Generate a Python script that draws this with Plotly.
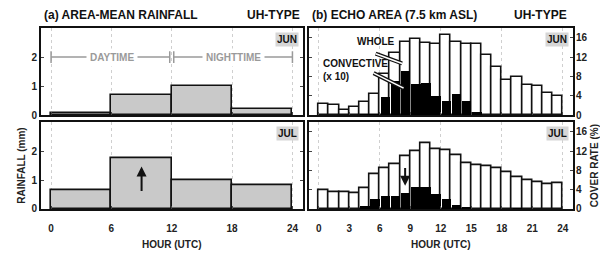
import plotly.graph_objects as go

# ---------------- DATA ----------------
bin6_start = [0, 6, 12, 18]
rain_jun = [0.08, 0.69, 1.0, 0.21]
rain_jul = [0.66, 1.75, 1.0, 0.81]

hour_start = list(range(24))
whole_jun = [2.4, 2.2, 1.0, 1.8, 2.7, 4.4, 8.6, 12.9, 15.2, 15.8, 14.9, 14.6,
             16.5, 15.1, 14.8, 14.6, 12.4, 10.0, 7.3, 8.0, 6.2, 6.0, 4.7, 4.0]
conv_jun = [0, 0, 0, 0, 0.2, 0.3, 3.7, 7.0, 9.1, 6.4, 6.7, 4.0,
            3.0, 4.4, 3.0, 0.6, 0, 0, 0, 0, 0, 0, 0, 0]
whole_jul = [4.0, 3.5, 3.5, 3.2, 4.4, 7.2, 8.5, 9.2, 11.0, 11.9, 13.6, 12.5,
             12.3, 11.1, 9.5, 9.0, 8.8, 8.4, 7.7, 6.6, 6.0, 5.6, 5.2, 5.3]
conv_jul = [0, 0, 0, 0, 0.6, 2.0, 2.6, 2.7, 3.2, 4.5, 4.5, 3.1,
            2.1, 0.9, 0.2, 0, 0, 0, 0, 0.15, 0, 0, 0, 0]

left_xticks = [0, 6, 12, 18, 24]
right_xticks = [0, 3, 6, 9, 12, 15, 18, 21, 24]
rain_yticks = [0, 1, 2]
cover_yticks = [0, 4, 8, 12, 16]

# ---------------- LAYOUT HELPERS ----------------
OFF = 8  # page body margin
W, H = 608 - OFF, 255 - OFF
def px(x): return (x - OFF) / W
def py(y): return 1 - (y - OFF) / H

LX = [px(41), px(302.5)]
RX = [px(308.5), px(573)]
TY = [py(118), py(28.5)]
BY = [py(214), py(125)]

FONT = "Liberation Sans"
GRAY = "#9a9a9a"

fig = go.Figure()

fig.add_trace(go.Bar(x=bin6_start, y=rain_jun, offset=0, width=6,
                     marker=dict(color="#c9c9c9", line=dict(color="#111", width=1.6)),
                     xaxis="x", yaxis="y", showlegend=False))
fig.add_trace(go.Bar(x=bin6_start, y=rain_jul, offset=0, width=6,
                     marker=dict(color="#c9c9c9", line=dict(color="#111", width=1.6)),
                     xaxis="x3", yaxis="y3", showlegend=False))
for xa, ya, wh, cv in [("x2", "y2", whole_jun, conv_jun), ("x4", "y4", whole_jul, conv_jul)]:
    fig.add_trace(go.Bar(x=hour_start, y=wh, offset=0, width=1,
                         marker=dict(color="white", line=dict(color="#111", width=1.6)),
                         xaxis=xa, yaxis=ya, showlegend=False))
    fig.add_trace(go.Bar(x=hour_start, y=cv, offset=0.04, width=0.92,
                         marker=dict(color="black", line=dict(color="black", width=0)),
                         xaxis=xa, yaxis=ya, showlegend=False))

tickfont = dict(family=FONT, size=10, color="#222", weight="bold")
common_x = dict(range=[-1, 25], showline=True, linecolor="#111", linewidth=2, mirror=True,
                ticks="inside", ticklen=3, tickcolor="#444", tickfont=tickfont,
                zeroline=False, fixedrange=True, ticklabelstandoff=9)
common_y = dict(showline=True, linecolor="#111", linewidth=2, mirror="ticks",
                ticks="inside", ticklen=3, tickcolor="#444", tickfont=tickfont,
                showgrid=False, zeroline=False, fixedrange=True)
grid6 = dict(showgrid=True, gridcolor="#cfcfcf", griddash="dot", gridwidth=1)
ttl = dict(family=FONT, size=10, color="#222", weight="bold")

fig.update_layout(
    width=W, height=H, margin=dict(l=0, r=0, t=0, b=0),
    plot_bgcolor="white", paper_bgcolor="white", barmode="overlay", bargap=0,
    font=dict(family=FONT, size=10, color="#222", weight="bold"),
    xaxis=dict(domain=LX, anchor="y", tickvals=left_xticks, showticklabels=False,
               **grid6, **common_x),
    yaxis=dict(domain=TY, anchor="x", range=[0, 3], tickvals=rain_yticks, **common_y),
    xaxis2=dict(domain=RX, anchor="y2", tickvals=right_xticks, showticklabels=False,
                showgrid=False, minor=dict(dtick=6, tick0=0, **grid6, ticks=""), **common_x),
    yaxis2=dict(domain=TY, anchor="x2", side="right", range=[0, 18], tickvals=cover_yticks,
                ticklabelstandoff=-1, **common_y),
    xaxis3=dict(domain=LX, anchor="y3", tickvals=left_xticks,
                title=dict(text="HOUR (UTC)", standoff=8, font=ttl),
                **grid6, **common_x),
    yaxis3=dict(domain=BY, anchor="x3", range=[0, 3], tickvals=rain_yticks,
                title=dict(text="RAINFALL (mm)", standoff=4, font=ttl), **common_y),
    xaxis4=dict(domain=RX, anchor="y4", tickvals=right_xticks,
                title=dict(text="HOUR (UTC)", standoff=8, font=ttl),
                showgrid=False, minor=dict(dtick=6, tick0=0, **grid6, ticks=""), **common_x),
    yaxis4=dict(domain=BY, anchor="x4", side="right", range=[0, 18], tickvals=cover_yticks,
                ticklabelstandoff=-1,
                title=dict(text="COVER RATE (%)", standoff=4, font=ttl), **common_y),
)

ann = []
tfont = dict(family=FONT, size=12, color="#111", weight="bold")
ann.append(dict(text="(a) AREA-MEAN RAINFALL", x=px(42), y=py(15), xref="paper", yref="paper",
                xanchor="left", yanchor="middle", showarrow=False, font=tfont))
ann.append(dict(text="UH-TYPE", x=px(302), y=py(15), xref="paper", yref="paper",
                xanchor="right", yanchor="middle", showarrow=False, font=tfont))
ann.append(dict(text="(b) ECHO AREA (7.5 km ASL)", x=px(310), y=py(15), xref="paper", yref="paper",
                xanchor="left", yanchor="middle", showarrow=False, font=tfont))
ann.append(dict(text="UH-TYPE", x=px(569), y=py(15), xref="paper", yref="paper",
                xanchor="right", yanchor="middle", showarrow=False, font=tfont))

for xa, txt in [("x", "JUN"), ("x2", "JUN"), ("x3", "JUL"), ("x4", "JUL")]:
    ya = xa.replace("x", "y")
    ann.append(dict(text=txt, x=0.985, y=0.95, xref=f"{xa} domain", yref=f"{ya} domain",
                    xanchor="right", yanchor="top", showarrow=False, bgcolor="#d6d6d6",
                    borderpad=1, font=dict(family=FONT, size=10, color="#111", weight="bold")))

gfont = dict(family=FONT, size=10, color=GRAY, weight="bold")
ann.append(dict(text="DAYTIME", x=6.1, y=2, xref="x", yref="y", showarrow=False,
                bgcolor="white", borderpad=3, font=gfont))
ann.append(dict(text="NIGHTTIME", x=18.1, y=2, xref="x", yref="y", showarrow=False,
                bgcolor="white", borderpad=3, font=gfont))

ann.append(dict(x=9, y=1.47, ax=9, ay=0.57, xref="x3", yref="y3", axref="x3", ayref="y3",
                showarrow=True, arrowhead=2, arrowsize=1, arrowwidth=2, arrowcolor="#111", text=""))
ann.append(dict(x=8.5, y=4.8, ax=8.5, ay=8.8, xref="x4", yref="y4", axref="x4", ayref="y4",
                showarrow=True, arrowhead=2, arrowsize=1, arrowwidth=2, arrowcolor="#111", text=""))

lfont = dict(family=FONT, size=10, color="#111", weight="bold")
ann.append(dict(text="WHOLE", x=px(355), y=py(42), xref="paper", yref="paper",
                xanchor="left", yanchor="middle", showarrow=False, font=lfont))
ann.append(dict(text="CONVECTIVE<br>(x 10)", x=px(321), y=py(72), xref="paper", yref="paper",
                xanchor="left", yanchor="middle", align="left", showarrow=False, font=lfont))
fig.update_layout(annotations=ann)

shapes = []
for x0, x1 in [(0, 11.8), (12.2, 24)]:
    shapes.append(dict(type="line", x0=x0, x1=x1, y0=2, y1=2, xref="x", yref="y",
                       line=dict(color=GRAY, width=1.5)))
for xv in [0, 11.8, 12.2, 24]:
    shapes.append(dict(type="line", x0=xv, x1=xv, y0=1.8, y1=2.2, xref="x", yref="y",
                       line=dict(color=GRAY, width=1.5)))
for (x0, y0, x1, y1) in [(5.6, 12.7, 8.2, 10.7), (5.4, 8.7, 8.35, 5.6)]:
    shapes.append(dict(type="line", x0=x0, y0=y0, x1=x1, y1=y1, xref="x2", yref="y2",
                       line=dict(color="#111", width=4)))
    shapes.append(dict(type="line", x0=x0, y0=y0, x1=x1, y1=y1, xref="x2", yref="y2",
                       line=dict(color="white", width=1.5)))
fig.update_layout(shapes=shapes)

fig.write_html("out.html")
